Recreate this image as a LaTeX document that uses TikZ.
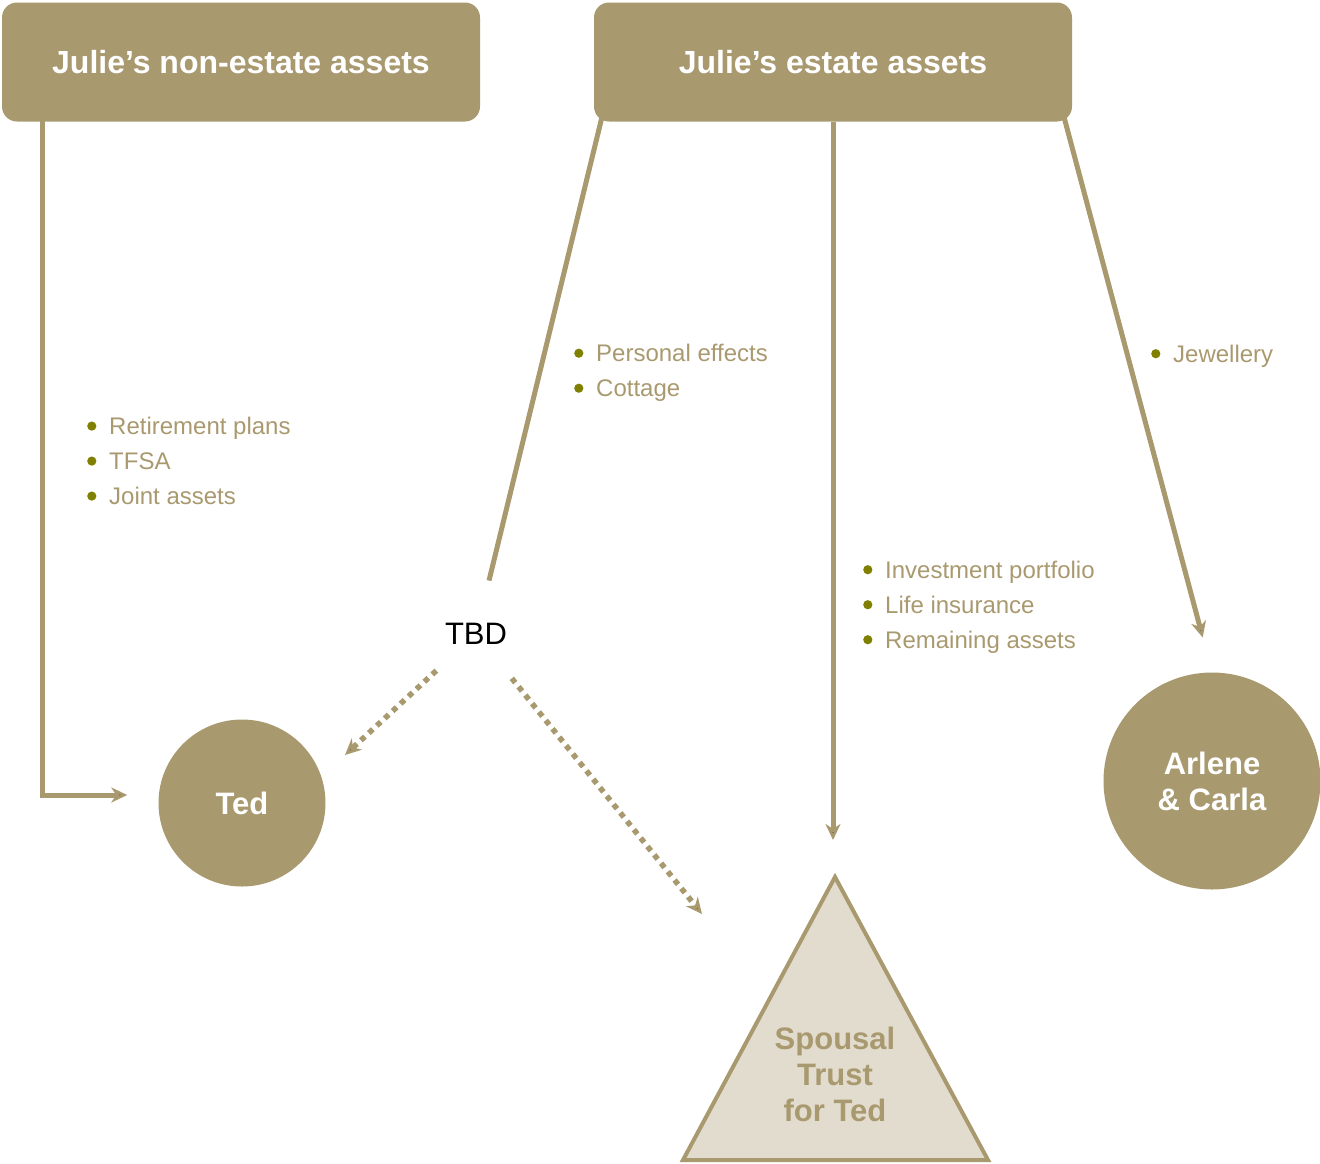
\documentclass[tikz,border=0pt]{standalone}
\usepackage{fontspec}
\setmainfont{Liberation Sans}
\usetikzlibrary{arrows.meta,positioning,backgrounds}
\definecolor{gold}{HTML}{A9996F}
\definecolor{goldpale}{HTML}{E2DCCE}
\definecolor{bulletolive}{HTML}{808000}
\newcommand{\assetitem}[1]{\makebox[22pt][l]{\tikz[baseline=-8.5pt]\fill[bulletolive] (4.5pt,0pt) circle (4.6pt);}#1}

\begin{document}
\begin{tikzpicture}[x=1pt, y=-1pt,
    asset box/.style={rectangle, rounded corners=15pt, fill=gold, minimum width=478pt, minimum height=119pt, text=white, font=\fontsize{32}{38}\selectfont\bfseries},
    person/.style={circle, fill=gold, text=white, align=center, font=\fontsize{31}{36}\selectfont\bfseries},
    asset list/.style={anchor=west, inner sep=0pt, align=left, text=gold, font=\fontsize{24}{35}\selectfont},
    flow/.style={draw=gold, line width=5pt, -{Stealth[length=16pt, width=15pt, inset=5pt]}},
    split/.style={draw=gold, line width=5.5pt, dash pattern=on 5.5pt off 5.3pt, -{Stealth[length=16pt, width=15pt, inset=5pt]}}
]
    \useasboundingbox (0,0) rectangle (1320,1163);

    % asset groups at the top
    \node[asset box] (nonestate) at (241,62) {Julie’s non-estate assets};
    \node[asset box] (estate) at (833,62) {Julie’s estate assets};

    % who receives what
    \node[person, minimum size=167pt] (ted) at (242,803) {Ted};
    \node[person, minimum size=217pt] (arlene) at (1212,781) {Arlene\\\& Carla};

    % spousal trust as a triangle
    \coordinate (apex) at (835,877);
    \coordinate (baseleft) at (683,1160);
    \coordinate (baseright) at (988,1160);
    \filldraw[fill=goldpale, draw=gold, line width=4pt] (apex) -- (baseleft) -- (baseright) -- cycle;
    \node[align=center, text=gold, font=\fontsize{31}{36}\selectfont\bfseries] (trust) at (835,1074) {Spousal\\Trust\\for Ted};

    \node[font=\fontsize{31}{36}\selectfont] (tbd) at (476,634) {TBD};

    % bullet lists beside the flows
    \node[asset list] (nonestatelist) at (87,461) {\assetitem{Retirement plans}\\\assetitem{TFSA}\\\assetitem{Joint assets}};
    \node[asset list] (tbdlist) at (574,373) {\assetitem{Personal effects}\\\assetitem{Cottage}};
    \node[asset list] (trustlist) at (863,607) {\assetitem{Investment portfolio}\\\assetitem{Life insurance}\\\assetitem{Remaining assets}};
    \node[asset list] (arlenelist) at (1151,356) {\assetitem{Jewellery}};

    % flows, kept behind the boxes
    \coordinate (tedside) at (345,755);
    \coordinate (trustside) at (702,914);
    \begin{scope}[on background layer]
        \draw[flow, shorten >=31pt] ([xshift=41pt, yshift=4pt]nonestate.south west) |- ([yshift=8pt]ted.west);
        \draw[draw=gold, line width=5pt, shorten >=55pt] ([xshift=8pt, yshift=4pt]estate.south west) -- (tbd.center);
        \draw[flow, shorten >=37pt] (estate.south) -- (estate.south |- apex);
        \draw[flow, shorten >=36pt] ([xshift=-8pt, yshift=4pt]estate.south east) -- (arlene.north);
        \draw[split, shorten <=54pt] (tbd.center) -- (tedside);
        \draw[split, shorten <=57pt] (tbd.center) -- (trustside);
    \end{scope}
\end{tikzpicture}
\end{document}
